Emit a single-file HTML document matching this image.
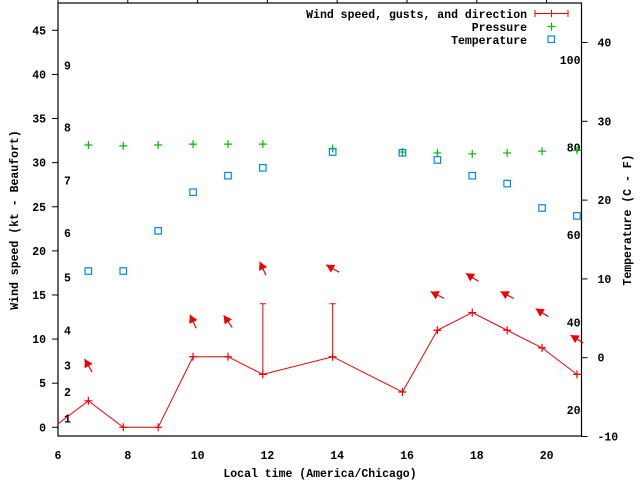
<!DOCTYPE html>
<html><head><meta charset="utf-8"><style>
html,body{margin:0;padding:0;background:#fff}
svg{display:block;font-family:"Liberation Mono",monospace;font-weight:bold;font-size:11.5px}
</style></head><body>
<svg id="chart" width="640" height="480" viewBox="0 0 640 480" xmlns="http://www.w3.org/2000/svg">
<rect x="0" y="0" width="640" height="480" fill="#fff"/>
<g id="axes"></g>
<g id="series"></g>
<text x="320" y="477" text-anchor="middle">Local time (America/Chicago)</text>
<text transform="translate(18,220) rotate(-90)" text-anchor="middle">Wind speed (kt - Beaufort)</text>
<text transform="translate(631,220) rotate(-90)" text-anchor="middle">Temperature (C - F)</text>
<g>
<text x="527" y="18" text-anchor="end">Wind speed, gusts, and direction</text>
<line x1="535" y1="13.5" x2="568" y2="13.5" stroke="#e00" stroke-width="1"/>
<line x1="535" y1="10" x2="535" y2="17" stroke="#e00"/><line x1="568" y1="10" x2="568" y2="17" stroke="#e00"/>
<line x1="551.5" y1="10" x2="551.5" y2="17" stroke="#e00"/>
<text x="527" y="31" text-anchor="end">Pressure</text>
<path d="M547.5 26.5h8M551.5 22.5v8" stroke="#0b0" stroke-width="1.2"/>
<text x="527" y="44" text-anchor="end">Temperature</text>
<rect x="548" y="36" width="6.5" height="6.5" fill="none" stroke="#08e" stroke-width="1.2"/>
</g>
</svg>
<script>
const times = [6.87,7.87,8.87,9.87,10.87,11.87,13.87,15.87,16.87,17.87,18.87,19.87,20.87];
const windSpeed = [3,0,0,8,8,6,8,4,11,13,11,9,6];
const windLeadTime = 5.87, windLeadValue = 0;
const gustTimes = [11.87,13.87];
const gustValues = [14,14];
const pressure = [32,31.9,32,32.1,32.1,32.1,31.6,31.2,31.1,31,31.1,31.3,31.4];
const temperatureC = [11,11,16.1,21,23.1,24.1,26.1,26,25.1,23.1,22.1,19,18];
const arrowTimes = [6.87,9.87,10.87,11.87,13.87,16.87,17.87,18.87,19.87,20.87];
const arrowValues = [7,12,12,18,18,15,17,15,13,10];
const arrowBearing = [330,335,325,335,300,297,303,298,302,302];
const xTicks = [6,8,10,12,14,16,18,20];
const yTicks = [0,5,10,15,20,25,30,35,40,45];
const y2Ticks = [-10,0,10,20,30,40];
const beaufortKt = [1,4,7,11,17,22,28,34,41];
const fahrenheit = [20,40,60,80,100];

const L=58,R=581.5,T=3,B=436;
const xS=t=>L+(t-6)/(21-6)*(R-L);
const yS=v=>427.3-v*8.822;
const y2S=c=>436.5-(c+10)*7.88;
const NS="http://www.w3.org/2000/svg";
function mk(tag,attrs,parent){const e=document.createElementNS(NS,tag);for(const k in attrs)e.setAttribute(k,attrs[k]);parent.appendChild(e);return e;}
const ax=document.getElementById('axes'), se=document.getElementById('series');

const frame=mk('rect',{x:L,y:T,width:R-L,height:B-T,fill:'none',stroke:'#000','stroke-width':1.2},ax);


xTicks.forEach(t=>{
  const x=xS(t);
  mk('line',{x1:x,y1:T,x2:x,y2:T-6,stroke:'#000'},ax);
  const tx=mk('text',{x:x,y:B+23,'text-anchor':'middle'},ax);
  
  
  tx.textContent=t;
});
yTicks.forEach(v=>{
  const y=yS(v);
  mk('line',{x1:L,y1:y,x2:L-6,y2:y,stroke:'#000'},ax);
  const tx=mk('text',{x:L-12,y:y+4,'text-anchor':'end'},ax);
  
  
  tx.textContent=v;
});
y2Ticks.forEach(v=>{
  const y=y2S(v);
  mk('line',{x1:R,y1:y,x2:R+6,y2:y,stroke:'#000'},ax);
  const tx=mk('text',{x:R+16,y:y+4,'text-anchor':'start'},ax);
  
  
  tx.textContent=v;
});
beaufortKt.forEach((kt,i)=>{
  const tx=mk('text',{x:64,y:yS(kt)+4},ax);
  
  
  tx.textContent=i+1;
});
fahrenheit.forEach(f=>{
  const c=(f-32)*5/9;
  const tx=mk('text',{x:R-1,y:y2S(c)+4,'text-anchor':'end'},ax);
  
  
  tx.textContent=f;
});

const defs=mk('defs',{},se);
const cp=mk('clipPath',{id:'clip'},defs);
mk('rect',{x:L,y:T,width:R-L,height:B-T},cp);
const g=mk('g',{'clip-path':'url(#clip)'},se);

let pts=[[xS(windLeadTime),yS(windLeadValue)]].concat(times.map((t,i)=>[xS(t),yS(windSpeed[i])]));
const wl=mk('polyline',{points:pts.map(p=>p.join(',')).join(' '),fill:'none',stroke:'#e00','stroke-width':1},g);


times.forEach((t,i)=>{
  const x=xS(t),y=yS(windSpeed[i]);
  const p=mk('path',{d:`M${x-4} ${y}h8M${x} ${y-4}v8`,stroke:'#e00','stroke-width':1.2},g);
  
  
});
gustTimes.forEach((t,i)=>{
  const x=xS(t);
  const ti=times.indexOf(t);
  const base=ti>=0?windSpeed[ti]:0;
  const p=mk('path',{d:`M${x} ${yS(base)}V${yS(gustValues[i])}M${x-3} ${yS(gustValues[i])}h6`,stroke:'#e00','stroke-width':1},g);
  
  
});
arrowTimes.forEach((t,i)=>{
  const cx=xS(t),cy=yS(arrowValues[i]);
  const a=arrowBearing[i]*Math.PI/180;
  const dx=Math.sin(a),dy=-Math.cos(a),len=15;
  const hx=cx+dx*len/2,hy=cy+dy*len/2,tx=cx-dx*len/2,ty=cy-dy*len/2;
  const px=-dy,py=dx;
  const bx=hx-dx*8,by=hy-dy*8;
  const ag=mk('g',{},se);
  
  
  mk('line',{x1:tx,y1:ty,x2:hx,y2:hy,stroke:'#e00','stroke-width':1.2},ag);
  mk('polygon',{points:`${hx},${hy} ${bx+px*4.5},${by+py*4.5} ${bx-px*4.5},${by-py*4.5}`,fill:'#e00'},ag);
});
times.forEach((t,i)=>{
  const x=xS(t),y=yS(pressure[i]);
  const p=mk('path',{d:`M${x-4} ${y}h8M${x} ${y-4}v8`,stroke:'#0b0','stroke-width':1.2},g);
  
  
});
times.forEach((t,i)=>{
  const x=xS(t),y=y2S(temperatureC[i]);
  const r=mk('rect',{x:x-3.25,y:y-3.25,width:6.5,height:6.5,fill:'none',stroke:'#08e','stroke-width':1.2},g);
  
  
});
</script>
</body></html>
